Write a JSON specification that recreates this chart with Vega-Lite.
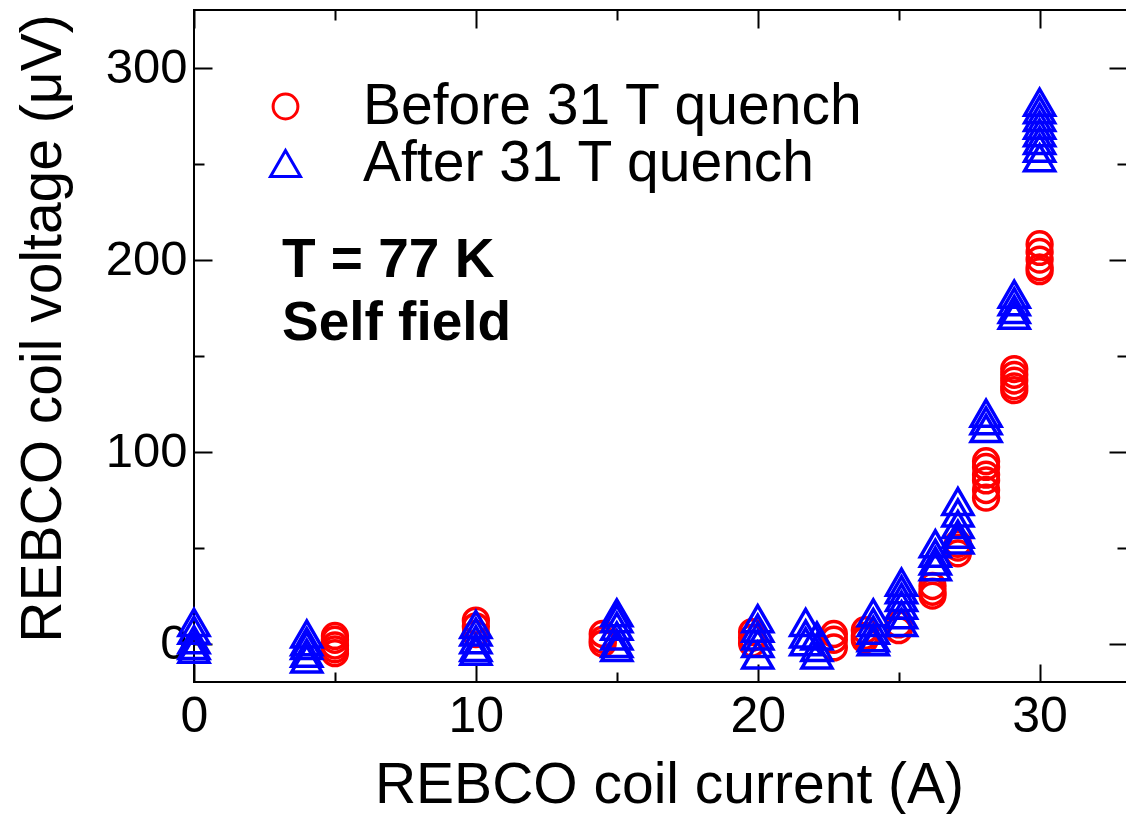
{
  "$schema": "https://vega.github.io/schema/vega-lite/v6.json",
  "autosize": {"type": "none"},
  "padding": {"left": 194, "top": 10, "right": 0, "bottom": 132},
  "width": 933,
  "height": 672,
  "background": "white",
  "config": {
    "view": {"stroke": "black", "strokeWidth": 2},
    "font": "Liberation Sans",
    "axis": {"grid": false, "domain": false, "tickColor": "black", "tickWidth": 2, "labelColor": "black", "titleColor": "black", "labelFont": "Liberation Sans", "titleFont": "Liberation Sans"}
  },
  "data": {
    "values": [
      {"series": "Before 31 T quench", "current": 5, "voltage": 4},
      {"series": "Before 31 T quench", "current": 5, "voltage": 2},
      {"series": "Before 31 T quench", "current": 5, "voltage": -1},
      {"series": "Before 31 T quench", "current": 5, "voltage": -3},
      {"series": "Before 31 T quench", "current": 5, "voltage": -5},
      {"series": "Before 31 T quench", "current": 10, "voltage": 12},
      {"series": "Before 31 T quench", "current": 10, "voltage": 9},
      {"series": "Before 31 T quench", "current": 10, "voltage": 5},
      {"series": "Before 31 T quench", "current": 14.5, "voltage": 5},
      {"series": "Before 31 T quench", "current": 14.5, "voltage": 2},
      {"series": "Before 31 T quench", "current": 14.5, "voltage": 0},
      {"series": "Before 31 T quench", "current": 19.8, "voltage": 6},
      {"series": "Before 31 T quench", "current": 19.8, "voltage": 3},
      {"series": "Before 31 T quench", "current": 19.8, "voltage": 0},
      {"series": "Before 31 T quench", "current": 22.7, "voltage": 5},
      {"series": "Before 31 T quench", "current": 22.7, "voltage": 2},
      {"series": "Before 31 T quench", "current": 22.7, "voltage": -2},
      {"series": "Before 31 T quench", "current": 23.8, "voltage": 7},
      {"series": "Before 31 T quench", "current": 23.8, "voltage": 4},
      {"series": "Before 31 T quench", "current": 23.8, "voltage": 2},
      {"series": "Before 31 T quench", "current": 25.0, "voltage": 10},
      {"series": "Before 31 T quench", "current": 25.0, "voltage": 7},
      {"series": "Before 31 T quench", "current": 26.2, "voltage": 30},
      {"series": "Before 31 T quench", "current": 26.2, "voltage": 27},
      {"series": "Before 31 T quench", "current": 26.2, "voltage": 25},
      {"series": "Before 31 T quench", "current": 27.1, "voltage": 52},
      {"series": "Before 31 T quench", "current": 27.1, "voltage": 50},
      {"series": "Before 31 T quench", "current": 27.1, "voltage": 47},
      {"series": "Before 31 T quench", "current": 28.1, "voltage": 95},
      {"series": "Before 31 T quench", "current": 28.1, "voltage": 92},
      {"series": "Before 31 T quench", "current": 28.1, "voltage": 88},
      {"series": "Before 31 T quench", "current": 28.1, "voltage": 85},
      {"series": "Before 31 T quench", "current": 28.1, "voltage": 80},
      {"series": "Before 31 T quench", "current": 28.1, "voltage": 76},
      {"series": "Before 31 T quench", "current": 29.1, "voltage": 143},
      {"series": "Before 31 T quench", "current": 29.1, "voltage": 140},
      {"series": "Before 31 T quench", "current": 29.1, "voltage": 137},
      {"series": "Before 31 T quench", "current": 29.1, "voltage": 134},
      {"series": "Before 31 T quench", "current": 29.1, "voltage": 132},
      {"series": "Before 31 T quench", "current": 30.0, "voltage": 208},
      {"series": "Before 31 T quench", "current": 30.0, "voltage": 204},
      {"series": "Before 31 T quench", "current": 30.0, "voltage": 200},
      {"series": "Before 31 T quench", "current": 30.0, "voltage": 196},
      {"series": "Before 31 T quench", "current": 30.0, "voltage": 194},
      {"series": "After 31 T quench", "current": 0, "voltage": 11},
      {"series": "After 31 T quench", "current": 0, "voltage": 7},
      {"series": "After 31 T quench", "current": 0, "voltage": 2},
      {"series": "After 31 T quench", "current": 0, "voltage": -1},
      {"series": "After 31 T quench", "current": 0, "voltage": -3},
      {"series": "After 31 T quench", "current": 4, "voltage": 5},
      {"series": "After 31 T quench", "current": 4, "voltage": 1},
      {"series": "After 31 T quench", "current": 4, "voltage": -1},
      {"series": "After 31 T quench", "current": 4, "voltage": -5},
      {"series": "After 31 T quench", "current": 4, "voltage": -8},
      {"series": "After 31 T quench", "current": 10, "voltage": 10},
      {"series": "After 31 T quench", "current": 10, "voltage": 6},
      {"series": "After 31 T quench", "current": 10, "voltage": 2},
      {"series": "After 31 T quench", "current": 10, "voltage": -2},
      {"series": "After 31 T quench", "current": 10, "voltage": -4},
      {"series": "After 31 T quench", "current": 15, "voltage": 16},
      {"series": "After 31 T quench", "current": 15, "voltage": 13},
      {"series": "After 31 T quench", "current": 15, "voltage": 9},
      {"series": "After 31 T quench", "current": 15, "voltage": 4},
      {"series": "After 31 T quench", "current": 15, "voltage": 0},
      {"series": "After 31 T quench", "current": 15, "voltage": -2},
      {"series": "After 31 T quench", "current": 20, "voltage": 13},
      {"series": "After 31 T quench", "current": 20, "voltage": 8},
      {"series": "After 31 T quench", "current": 20, "voltage": 4},
      {"series": "After 31 T quench", "current": 20, "voltage": 0},
      {"series": "After 31 T quench", "current": 20, "voltage": -6},
      {"series": "After 31 T quench", "current": 21.7, "voltage": 11},
      {"series": "After 31 T quench", "current": 21.7, "voltage": 5},
      {"series": "After 31 T quench", "current": 21.7, "voltage": 1},
      {"series": "After 31 T quench", "current": 22.1, "voltage": 4},
      {"series": "After 31 T quench", "current": 22.1, "voltage": -2},
      {"series": "After 31 T quench", "current": 22.1, "voltage": -6},
      {"series": "After 31 T quench", "current": 24.1, "voltage": 16},
      {"series": "After 31 T quench", "current": 24.1, "voltage": 11},
      {"series": "After 31 T quench", "current": 24.1, "voltage": 7},
      {"series": "After 31 T quench", "current": 24.1, "voltage": 3},
      {"series": "After 31 T quench", "current": 24.1, "voltage": 1},
      {"series": "After 31 T quench", "current": 25.1, "voltage": 32},
      {"series": "After 31 T quench", "current": 25.1, "voltage": 28},
      {"series": "After 31 T quench", "current": 25.1, "voltage": 24},
      {"series": "After 31 T quench", "current": 25.1, "voltage": 20},
      {"series": "After 31 T quench", "current": 25.1, "voltage": 15},
      {"series": "After 31 T quench", "current": 25.1, "voltage": 11},
      {"series": "After 31 T quench", "current": 26.3, "voltage": 52},
      {"series": "After 31 T quench", "current": 26.3, "voltage": 47},
      {"series": "After 31 T quench", "current": 26.3, "voltage": 43},
      {"series": "After 31 T quench", "current": 26.3, "voltage": 40},
      {"series": "After 31 T quench", "current": 27.1, "voltage": 74},
      {"series": "After 31 T quench", "current": 27.1, "voltage": 68},
      {"series": "After 31 T quench", "current": 27.1, "voltage": 62},
      {"series": "After 31 T quench", "current": 27.1, "voltage": 57},
      {"series": "After 31 T quench", "current": 27.1, "voltage": 54},
      {"series": "After 31 T quench", "current": 28.1, "voltage": 120},
      {"series": "After 31 T quench", "current": 28.1, "voltage": 116},
      {"series": "After 31 T quench", "current": 28.1, "voltage": 112},
      {"series": "After 31 T quench", "current": 29.1, "voltage": 182},
      {"series": "After 31 T quench", "current": 29.1, "voltage": 178},
      {"series": "After 31 T quench", "current": 29.1, "voltage": 174},
      {"series": "After 31 T quench", "current": 29.1, "voltage": 171},
      {"series": "After 31 T quench", "current": 30.0, "voltage": 282},
      {"series": "After 31 T quench", "current": 30.0, "voltage": 278},
      {"series": "After 31 T quench", "current": 30.0, "voltage": 274},
      {"series": "After 31 T quench", "current": 30.0, "voltage": 270},
      {"series": "After 31 T quench", "current": 30.0, "voltage": 266},
      {"series": "After 31 T quench", "current": 30.0, "voltage": 262},
      {"series": "After 31 T quench", "current": 30.0, "voltage": 258},
      {"series": "After 31 T quench", "current": 30.0, "voltage": 253}
    ]
  },
  "resolve": {"axis": {"x": "independent", "y": "independent"}},
  "layer": [
    {
      "transform": [{"filter": "datum.series === 'Before 31 T quench'"}],
      "mark": {"type": "point", "filled": false, "strokeWidth": 3.5, "opacity": 1},
      "encoding": {
        "x": {"field": "current", "type": "quantitative", "scale": {"domain": [0, 33.1], "nice": false, "zero": false},
          "axis": {"orient": "bottom", "values": [0, 10, 20, 30], "tickSize": -18, "labelPadding": 27, "labelFontSize": 50, "labelFlush": false,
            "title": "REBCO coil current (A)", "titleFontSize": 57, "titleFontWeight": "normal", "titleX": 475, "titleY": 120, "titleBaseline": "alphabetic", "titleAlign": "center"}},
        "y": {"field": "voltage", "type": "quantitative", "scale": {"domain": [-20, 330], "nice": false, "zero": false},
          "axis": {"orient": "left", "values": [0, 100, 200, 300], "tickSize": -18, "labelPadding": 25, "labelFontSize": 49, "labelFlush": false,
            "title": "REBCO coil voltage (μV)", "titleFontSize": 57, "titleFontWeight": "normal", "titleX": -134, "titleY": 318, "titleAngle": -90, "titleBaseline": "alphabetic", "titleAlign": "center"}},
        "color": {"field": "series", "type": "nominal", "scale": {"domain": ["Before 31 T quench", "After 31 T quench"], "range": ["#FF0000", "#0000FF"]},
          "legend": {"orient": "none", "legendX": 63, "legendY": 68, "title": null, "padding": 0, "labelFontSize": 57, "labelFont": "Liberation Sans", "labelColor": "black", "labelOffset": 49, "labelLimit": 0, "rowPadding": -3, "symbolStrokeWidth": 3}},
        "shape": {"field": "series", "type": "nominal", "scale": {"domain": ["Before 31 T quench", "After 31 T quench"], "range": ["circle", "triangle-up"]}},
        "size": {"field": "series", "type": "nominal", "scale": {"domain": ["Before 31 T quench", "After 31 T quench"], "range": [615, 900]}}
      }
    },
    {
      "transform": [{"filter": "datum.series === 'After 31 T quench'"}],
      "mark": {"type": "point", "filled": false, "strokeWidth": 3.5, "opacity": 1},
      "encoding": {
        "x": {"field": "current", "type": "quantitative",
          "axis": {"orient": "bottom", "values": [5, 15, 25], "tickSize": -10, "labels": false, "title": null}},
        "y": {"field": "voltage", "type": "quantitative",
          "axis": {"orient": "left", "values": [50, 150, 250], "tickSize": -10, "labels": false, "title": null}},
        "color": {"field": "series", "type": "nominal"},
        "shape": {"field": "series", "type": "nominal"},
        "size": {"field": "series", "type": "nominal"}
      }
    },
    {
      "data": {"values": [{"label": "T = 77 K"}]},
      "mark": {"type": "text", "align": "left", "baseline": "alphabetic", "fontSize": 55, "fontWeight": "bold", "font": "Liberation Sans", "color": "black"},
      "encoding": {
        "x": {"datum": 3.12, "type": "quantitative",
          "axis": {"orient": "top", "values": [0, 10, 20, 30], "tickSize": -18, "labels": false, "title": null}},
        "y": {"datum": 190.9, "type": "quantitative",
          "axis": {"orient": "right", "values": [0, 100, 200, 300], "tickSize": -18, "labels": false, "title": null}},
        "text": {"field": "label"}
      }
    },
    {
      "data": {"values": [{"label": "Self field"}]},
      "mark": {"type": "text", "align": "left", "baseline": "alphabetic", "fontSize": 55, "fontWeight": "bold", "font": "Liberation Sans", "color": "black"},
      "encoding": {
        "x": {"datum": 3.12, "type": "quantitative",
          "axis": {"orient": "top", "values": [5, 15, 25], "tickSize": -10, "labels": false, "title": null}},
        "y": {"datum": 158.1, "type": "quantitative",
          "axis": {"orient": "right", "values": [50, 150, 250], "tickSize": -10, "labels": false, "title": null}},
        "text": {"field": "label"}
      }
    }
  ]
}
